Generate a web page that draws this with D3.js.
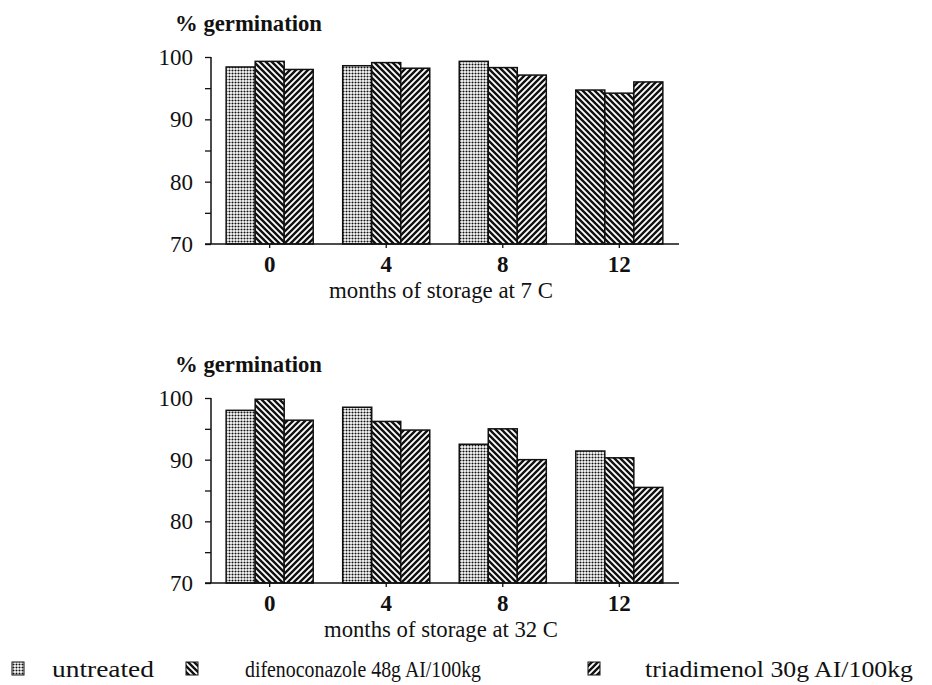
<!DOCTYPE html>
<html>
<head>
<meta charset="utf-8">
<title>germination</title>
<script src="https://cdnjs.cloudflare.com/ajax/libs/d3/7.8.5/d3.min.js"></script>
<style>
  body { margin: 0; background: #fff; }
</style>
</head>
<body>
<script>
// data
var months = ["0", "4", "8", "12"];
var series = ["untreated", "difenoconazole 48g AI/100kg", "triadimenol 30g AI/100kg"];
var untreated7 = [98.4, 98.6, 99.3, 94.7];
var difeno7    = [99.3, 99.1, 98.3, 94.2];
var triad7     = [98.0, 98.2, 97.1, 96.0];
var untreated32 = [98.0, 98.5, 92.5, 91.4];
var difeno32    = [99.8, 96.2, 95.0, 90.3];
var triad32     = [96.4, 94.8, 90.0, 85.5];
var yTicks = [70, 75, 80, 85, 90, 95, 100];
var yLabels = [70, 80, 90, 100];
// in the printed figure the 12-month untreated bar of the 7 C panel is hatched
var fillOverride7 = [null, null, null, "hatchA"];

var serif = "'Liberation Serif', 'Times New Roman', 'DejaVu Serif', serif";

var svg = d3.select("body").append("svg")
  .attr("width", 932)
  .attr("height", 685)
  .style("font-family", serif);

var defs = svg.append("defs");

var dots = defs.append("pattern").attr("id", "dots")
  .attr("patternUnits", "userSpaceOnUse").attr("width", 3).attr("height", 3);
dots.append("rect").attr("width", 3).attr("height", 3).attr("fill", "#fff");
dots.append("circle").attr("cx", 1.5).attr("cy", 1.5).attr("r", 1.05).attr("fill", "#111");

function hatch(id, flip) {
  var p = defs.append("pattern").attr("id", id)
    .attr("patternUnits", "userSpaceOnUse").attr("width", 6).attr("height", 6);
  p.append("rect").attr("width", 6).attr("height", 6).attr("fill", "#fff");
  var d = flip ? "M-1,1 L1,-1 M0,6 L6,0 M5,7 L7,5" : "M-1,5 L1,7 M0,0 L6,6 M5,-1 L7,1";
  p.append("path").attr("d", d).attr("stroke", "#111").attr("stroke-width", 2.4);
}
hatch("hatchA", false);  // "\\\"
hatch("hatchB", true);   // "///"
var fills = ["dots", "hatchA", "hatchB"];

var x = d3.scaleBand().domain(months).range([211, 678])
  .paddingInner(0.253).paddingOuter(0.13);
var xs = d3.scaleBand().domain(d3.range(3)).range([0, x.bandwidth()]);

function panel(top, bottom, vals, override, title) {
  var y = d3.scaleLinear().domain([70, 100]).range([bottom, top]);
  var g = svg.append("g");

  var rows = [];
  months.forEach(function(m, i) {
    vals.forEach(function(v, s) {
      var f = fills[s];
      if (s === 0 && override && override[i]) f = override[i];
      rows.push({m: m, s: s, v: v[i], fill: f});
    });
  });

  g.selectAll("rect.bar").data(rows).enter().append("rect")
    .attr("class", "bar")
    .attr("x", function(d) { return x(d.m) + xs(d.s); })
    .attr("width", xs.bandwidth())
    .attr("y", function(d) { return y(d.v); })
    .attr("height", function(d) { return y(70) - y(d.v); })
    .attr("fill", function(d) { return "url(#" + d.fill + ")"; })
    .attr("stroke", "#111")
    .attr("stroke-width", 1.5);

  // y axis
  var ya = g.append("g").attr("transform", "translate(211,0)")
    .call(d3.axisLeft(y).tickValues(yTicks).tickSize(6).tickFormat(""));
  ya.select(".domain").attr("d", "M0," + y(100) + "V" + y(70)).attr("stroke", "#111").attr("stroke-width", 1.5);
  ya.selectAll(".tick line").attr("stroke", "#111").attr("stroke-width", 1.3);

  g.selectAll("text.ylab").data(yLabels).enter().append("text")
    .attr("class", "ylab")
    .attr("x", 193)
    .attr("y", function(d) { return y(d) + 8; })
    .attr("text-anchor", "end")
    .attr("fill", "#111")
    .style("font-size", "23px")
    .text(function(d) { return d; });

  // x axis
  var xa = g.append("g").attr("transform", "translate(0," + y(70) + ")")
    .call(d3.axisBottom(x).tickSize(4).tickSizeOuter(0).tickFormat(""));
  xa.select(".domain").attr("d", "M205,0H" + 679).attr("stroke", "#111").attr("stroke-width", 1.5);
  xa.selectAll(".tick line").attr("stroke", "#111").attr("stroke-width", 1.3);

  g.selectAll("text.xlab").data(months).enter().append("text")
    .attr("class", "xlab")
    .attr("x", function(d) { return x(d) + x.bandwidth() / 2; })
    .attr("y", y(70) + 28)
    .attr("text-anchor", "middle")
    .attr("fill", "#111")
    .style("font-size", "23px")
    .style("font-weight", "bold")
    .text(function(d) { return d; });

  g.append("text")
    .attr("x", 441).attr("y", y(70) + 54)
    .attr("text-anchor", "middle")
    .attr("fill", "#111")
    .attr("textLength", title.length > 24 ? 234 : 224)
    .attr("lengthAdjust", "spacingAndGlyphs")
    .style("font-size", "24px")
    .text(title);

  g.append("text")
    .attr("x", 175).attr("y", top - 26)
    .attr("fill", "#111")
    .attr("textLength", 147)
    .attr("lengthAdjust", "spacingAndGlyphs")
    .style("font-size", "23px")
    .style("font-weight", "bold")
    .text("% germination");
}

panel(57, 244, [untreated7, difeno7, triad7], fillOverride7, "months of storage at 7 C");
panel(398, 583, [untreated32, difeno32, triad32], null, "months of storage at 32 C");

// legend
var legX = [12, 186, 588];
var legTextX = [52, 245, 645];
var legW = [102, 236, 268];
var leg = svg.append("g");
series.forEach(function(name, i) {
  leg.append("rect")
    .attr("x", legX[i]).attr("y", 662)
    .attr("width", 12).attr("height", 13)
    .attr("fill", "url(#" + fills[i] + ")")
    .attr("stroke", "#111").attr("stroke-width", 1);
  leg.append("text")
    .attr("x", legTextX[i]).attr("y", 677)
    .attr("fill", "#111")
    .attr("textLength", legW[i])
    .attr("lengthAdjust", "spacingAndGlyphs")
    .style("font-size", "23px")
    .text(name);
});
</script>
</body>
</html>
